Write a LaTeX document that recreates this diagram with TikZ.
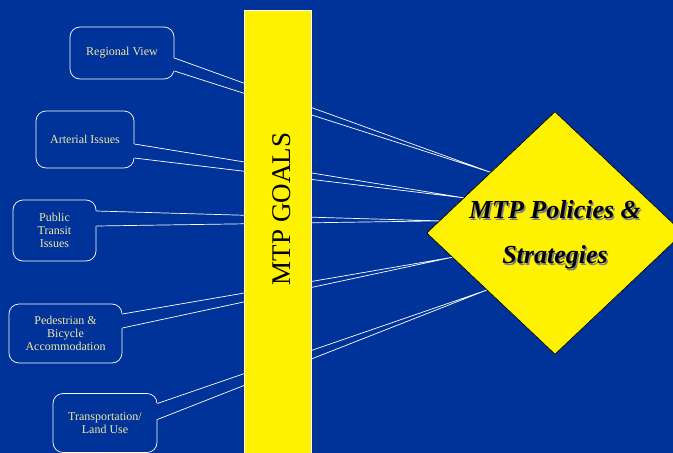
\documentclass[tikz,border=0pt]{standalone}
\usepackage{fontspec}
\setmainfont{Liberation Serif}
\usetikzlibrary{shapes.geometric,calc}
\definecolor{slideblue}{RGB}{0,51,153}
\definecolor{cream}{RGB}{238,232,170}

\begin{document}
\begin{tikzpicture}[x=1pt,y=-1pt,
	topic/.style={draw=white, line width=0.7pt, fill=slideblue, rounded corners=10pt, text=cream, align=center, font=\fontsize{12}{13}\selectfont, inner sep=0pt},
	pointer/.style={white, line width=0.7pt},
	goalbar/.style={draw=white, line width=0.8pt, fill=yellow, minimum width=67, minimum height=450, inner sep=0pt},
	policy/.style={diamond, minimum width=256, minimum height=242, inner sep=0pt}]
	\useasboundingbox (0,0) rectangle (673,453);
	\fill[slideblue] (0,0) rectangle (673,453);

	% the policy diamond, filled later
	\path node[policy] (pol) at (555,233) {};
	\coordinate (reg-tip) at (pol.north west);
	\coordinate (art-tip) at ($(pol.west)!0.29!(pol.north)$);
	\coordinate (pub-tip) at ($(pol.west)!0.1!(pol.north)$);
	\coordinate (ped-tip) at ($(pol.west)!0.2!(pol.south)$);
	\coordinate (tra-tip) at ($(pol.west)!0.47!(pol.south)$);

	% topics
	\node[topic, minimum width=104, minimum height=52] (reg) at (122,53) {Regional View};
	\node[topic, minimum width=98, minimum height=57] (art) at (85,139.5) {Arterial Issues};
	\node[topic, minimum width=83, minimum height=61] (pub) at (54.5,230.5) {Public\\Transit\\Issues};
	\node[topic, minimum width=113, minimum height=59] (ped) at (65.5,333.5) {Pedestrian \&\\Bicycle\\Accommodation};
	\node[topic, minimum width=104, minimum height=59] (tra) at (105,423) {Transportation/\\Land Use};

	\foreach \n/\a/\b in {reg/5/18, art/4.5/18.5, pub/-19.5/-4.5, ped/-19.5/-5.5, tra/-19.5/-3.5} {
		\fill[slideblue] ($(\n.east)+(-1.5,\a)$) -- (\n-tip) -- ($(\n.east)+(-1.5,\b)$) -- cycle;
		\draw[pointer] ($(\n.east)+(0,\a)$) -- (\n-tip) -- ($(\n.east)+(0,\b)$);
	}

	% goals bar
	\node[goalbar] (bar) at (277.5,235) {};
	\node[rotate=90, font=\fontsize{27}{30}\selectfont] (goals) at (282,209) {MTP GOALS};

	\filldraw[fill=yellow, draw=black, line width=0.6pt] (pol.north) -- (pol.east) -- (pol.south) -- (pol.west) -- cycle;
	\node[align=center, text=gray, font=\bfseries\itshape\fontsize{26}{45}\selectfont] (polshadow) at (556.5,236.5) {MTP Policies \&\\Strategies};
	\node[align=center, font=\bfseries\itshape\fontsize{26}{45}\selectfont] (poltext) at (555,235) {MTP Policies \&\\Strategies};
\end{tikzpicture}
\end{document}
